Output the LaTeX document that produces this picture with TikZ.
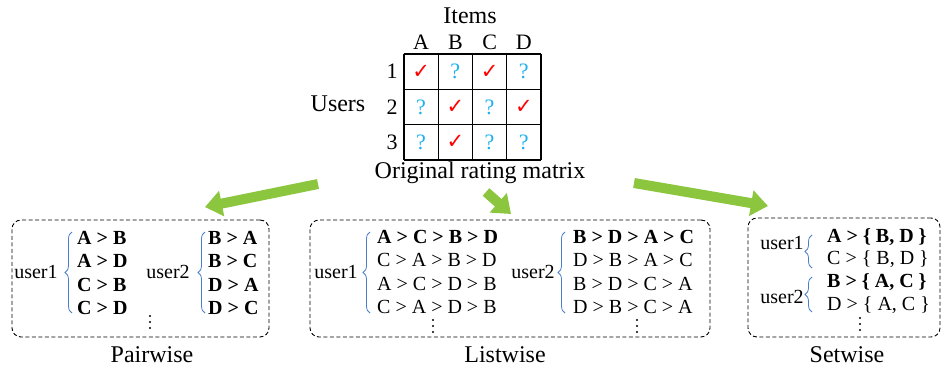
\documentclass[tikz,border=0pt]{standalone}
\usepackage{fontspec}
\setmainfont{Liberation Serif}
\newfontfamily\symfont{DejaVu Sans}
\usetikzlibrary{arrows.meta,decorations.pathreplacing,positioning}
\definecolor{arrowgreen}{HTML}{8CC63F}
\definecolor{qblue}{HTML}{1EB0EE}
\definecolor{braceblue}{HTML}{4A7EC9}
\newcommand{\cmark}{\textcolor{red}{\fontsize{21}{22}\symfont ✓}}
\newcommand{\qmark}{\textcolor{qblue}{\fontsize{22}{24}\selectfont ?}}

\begin{document}
\begin{tikzpicture}[x=1pt,y=-1pt,
    every node/.style={inner sep=0pt, font=\fontsize{20}{22}\selectfont},
    big/.style={font=\fontsize{24}{28}\selectfont},
    grp/.style={draw, dash pattern=on 4pt off 2.5pt, rounded corners=9pt, line width=0.9pt},
    ubrace/.style={draw=braceblue, line width=0.8pt, decorate, decoration={brace, amplitude=7pt}},
    flow/.style={draw=arrowgreen, line width=10pt, -{Triangle[width=25pt,length=17pt]}},
    row/.style={anchor=west}]
  \useasboundingbox (0,0) rectangle (942,369);

  % rating matrix
  \node[big] (items) at (470,16) {Items};
  \node[big] (users) at (338,104) {Users};
  \foreach \c [count=\i] in {A,B,C,D}
    \node[font=\fontsize{22}{24}\selectfont] (col\i) at ({404+34.25*(\i-0.5)},42) {\c};
  \foreach \r in {1,2,3}
    \node[font=\fontsize{22}{24}\selectfont] (row\r) at (392,{54+35.33*(\r-0.5)}) {\r};
  \foreach \x in {0,...,4}
    \draw[line width=1.2pt] ({404+34.25*\x},54) -- ({404+34.25*\x},160);
  \foreach \y in {0,...,3}
    \draw[line width=1.2pt] (404,{54+35.33*\y}) -- (541,{54+35.33*\y});
  \foreach \r/\c/\v in {1/1/\cmark,1/2/\qmark,1/3/\cmark,1/4/\qmark,
                        2/1/\qmark,2/2/\cmark,2/3/\qmark,2/4/\cmark,
                        3/1/\qmark,3/2/\cmark,3/3/\qmark,3/4/\qmark}
    \node (m\r\c) at ({404+34.25*(\c-0.5)},{54+35.33*(\r-0.5)}) {\v};
  \node[big] (orig) at (480,173) {Original rating matrix};

  % arrows
  \coordinate (pairtail) at (318,184);
  \coordinate (pairhead) at (205,207);
  \coordinate (listtail) at (486,192);
  \coordinate (listhead) at (511,214);
  \coordinate (settail) at (634,183);
  \coordinate (sethead) at (768,206);
  \draw[flow] (pairtail) -- (pairhead);
  \draw[flow] (listtail) -- (listhead);
  \draw[flow] (settail) -- (sethead);

  % pairwise
  \node[grp, minimum width=257pt, minimum height=117pt] (pairbox) at (140.5,278.5) {};
  \node[big] (pairlbl) at (152,355) {Pairwise};
  \node (pu1) at (36,272) {user1};
  \node (pu2) at (168,272) {user2};
  \draw[ubrace] (72,313) -- (72,232);
  \draw[ubrace] (205,313) -- (205,232);
  \foreach \t [count=\i] in {A > B, A > D, C > B, C > D}
    \node[row, font=\fontsize{20}{22}\selectfont\bfseries] (pa\i) at (77,{238+23.3*(\i-1)}) {\t};
  \foreach \t [count=\i] in {B > A, B > C, D > A, D > C}
    \node[row, font=\fontsize{20}{22}\selectfont\bfseries] (pb\i) at (208,{238+23.3*(\i-1)}) {\t};
  \foreach \y in {316,322,328} \fill (150,\y) circle (1.2pt);

  % listwise
  \node[grp, minimum width=400pt, minimum height=117pt] (listbox) at (510,278.5) {};
  \node[big] (listlbl) at (505,355) {Listwise};
  \node (lu1) at (336,272) {user1};
  \node (lu2) at (533,272) {user2};
  \draw[ubrace] (370,313) -- (370,232);
  \draw[ubrace] (565,313) -- (565,232);
  \foreach \t [count=\i] in {\textbf{A > C > B > D}, C > A > B > D, A > C > D > B, C > A > D > B}
    \node[row] (la\i) at (377,{237+23.3*(\i-1)}) {\t};
  \foreach \t [count=\i] in {\textbf{B > D > A > C}, D > B > A > C, B > D > C > A, D > B > C > A}
    \node[row] (lb\i) at (573,{237+23.3*(\i-1)}) {\t};
  \foreach \y in {320,326,332} {
    \fill (433,\y) circle (1.2pt);
    \fill (637,\y) circle (1.2pt);
  }

  % setwise
  \node[grp, minimum width=192pt, minimum height=119pt] (setbox) at (844,277.5) {};
  \node[big] (setlbl) at (847,355) {Setwise};
  \node (su1) at (782,243) {user1};
  \node (su2) at (782,297) {user2};
  \draw[ubrace] (812,268) -- (812,235);
  \draw[ubrace] (812,312) -- (812,277);
  \node[row] (sa1) at (827,237) {\textbf{A > \{ B, D \}}};
  \node[row] (sa2) at (827,259) {C > \{ B, D \}};
  \node[row] (sb1) at (827,282) {\textbf{B > \{ A, C \}}};
  \node[row] (sb2) at (827,305) {D > \{ A, C \}};
  \foreach \y in {318,324,330} \fill (860,\y) circle (1.2pt);
\end{tikzpicture}
\end{document}
